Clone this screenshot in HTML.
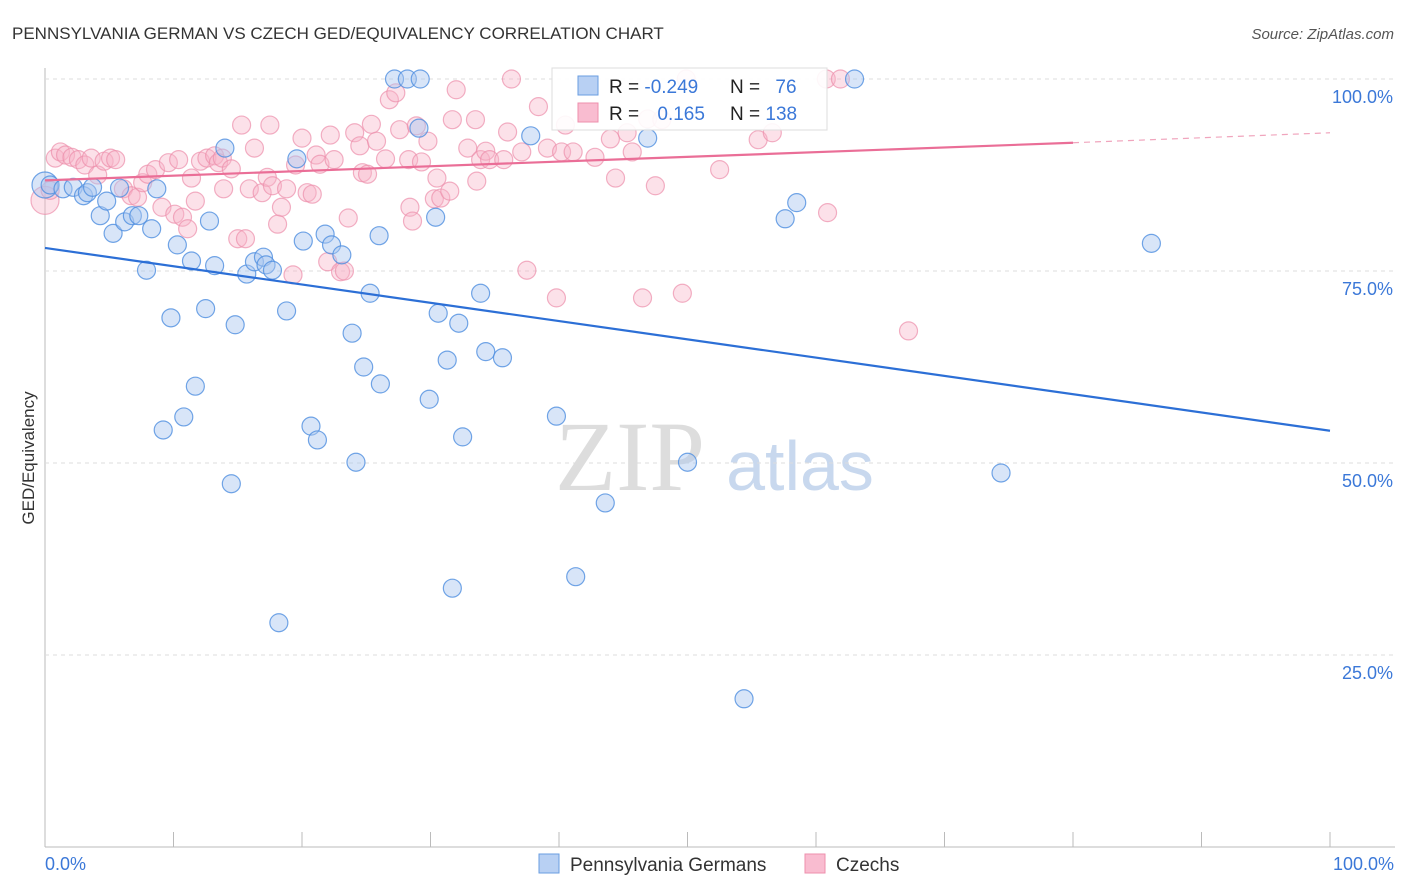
<!DOCTYPE html>
<html><head><meta charset="utf-8"><style>
body{margin:0;background:#fff;font-family:"Liberation Sans",sans-serif;}
#wrap{position:relative;width:1406px;height:892px;overflow:hidden;}
</style></head><body>
<div id="wrap">
<svg id="svg" width="1406" height="892" xmlns="http://www.w3.org/2000/svg">
<text x="12" y="39" font-size="17" fill="#333">PENNSYLVANIA GERMAN VS CZECH GED/EQUIVALENCY CORRELATION CHART</text>
<text x="1394" y="39" font-size="15" fill="#555" text-anchor="end" font-style="italic">Source: ZipAtlas.com</text>
<text x="34" y="458" font-size="17" fill="#333" text-anchor="middle" transform="rotate(-90 34 458)">GED/Equivalency</text>
<text x="630" y="490" font-size="100" fill="#ddd" font-family="Liberation Serif,serif" text-anchor="middle">ZIP</text>
<text x="800" y="490" font-size="70" fill="#c8d8ee" text-anchor="middle">atlas</text>
<g id="grid"></g><g id="pts"></g><g id="lines"></g>
<g>
<rect x="552" y="68" width="275" height="62" fill="#fff" fill-opacity="0.9" stroke="#ddd"/>
<rect x="578" y="76" width="20" height="19" fill="#b8d0f3" stroke="#6a9ee0"/>
<rect x="578" y="103" width="20" height="19" fill="#f9bcd0" stroke="#ee8fad"/>
<text x="609" y="93" font-size="19" fill="#222">R = <tspan fill="#3b78d8">-0.249</tspan></text>
<text x="730" y="93" font-size="19" fill="#222">N = <tspan fill="#3b78d8" dx="10">76</tspan></text>
<text x="609" y="120" font-size="19" fill="#222">R = <tspan fill="#3b78d8" dx="13">0.165</tspan></text>
<text x="730" y="120" font-size="19" fill="#222">N = <tspan fill="#3b78d8">138</tspan></text>
</g>
<g>
<rect x="539" y="854" width="20" height="19" fill="#b8d0f3" stroke="#6a9ee0"/>
<text x="570" y="871" font-size="19" fill="#333">Pennsylvania Germans</text>
<rect x="805" y="854" width="20" height="19" fill="#f9bcd0" stroke="#ee8fad"/>
<text x="836" y="871" font-size="19" fill="#333">Czechs</text>
</g>
<text x="45" y="870" font-size="18" fill="#3b78d8">0.0%</text>
<text x="1394" y="870" font-size="18" fill="#3b78d8" text-anchor="end">100.0%</text>
</svg>
</div>
<script>
const blueX=[0,0.4,1.4,2.2,3.0,3.3,3.7,4.3,4.8,5.3,5.8,6.2,6.8,7.3,7.9,8.3,8.7,9.2,9.8,10.3,10.8,11.4,11.7,12.5,12.8,13.2,14.0,14.5,14.8,15.7,16.3,17.0,17.2,17.7,18.2,18.8,19.6,20.1,20.7,21.2,21.8,22.3,23.1,23.9,24.2,24.8,25.3,26.0,26.1,27.2,28.2,29.2,29.1,29.9,30.4,30.6,31.3,31.7,32.2,32.5,33.9,34.3,35.6,37.8,39.8,41.3,43.6,46.9,50.0,54.4,57.6,58.5,63.0,74.4,86.1];
const blueY=[86.2,86.2,85.7,85.9,84.8,85.2,85.9,82.2,84.1,79.9,85.8,81.4,82.2,82.2,75.1,80.5,85.7,54.3,68.9,78.4,56.0,76.3,60.0,70.1,81.5,75.7,91.0,47.3,68.0,74.6,76.2,76.8,75.8,75.1,29.2,69.8,89.6,78.9,54.8,53.0,79.8,78.4,77.1,66.9,50.1,62.5,72.1,79.6,60.3,100,100,100,93.6,58.3,82.0,69.5,63.4,33.7,68.2,53.4,72.1,64.5,63.7,92.6,56.1,35.2,44.8,92.3,50.1,19.3,81.8,83.9,100,48.7,78.6];
const pinkX=[0,0.4,0.8,1.2,1.6,2.1,2.6,3.1,3.6,4.1,4.6,5.1,5.5,6.1,6.7,7.2,7.6,8.0,8.6,9.1,9.6,10.1,10.4,10.7,11.1,11.4,11.7,12.1,12.6,13.2,13.5,13.8,13.9,14.5,15.0,15.3,15.6,15.9,16.3,16.9,17.3,17.5,17.7,18.1,18.4,18.8,19.3,19.5,20.0,20.4,20.8,21.1,21.4,22.0,22.2,22.5,23.0,23.3,23.6,24.1,24.5,24.7,25.1,25.4,25.8,26.5,26.8,27.3,27.6,28.3,28.4,28.6,28.9,29.3,29.8,30.3,30.5,30.8,31.5,31.7,32.0,32.9,33.5,33.6,33.9,34.3,34.6,35.7,36.0,36.3,37.1,37.5,38.4,39.1,39.8,40.2,40.5,41.1,42.8,44.0,44.4,45.3,45.7,46.5,46.9,47.5,48.0,49.6,49.9,52.5,55.5,56.6,60.8,60.9,61.9,67.2];
const pinkY=[84.2,85.5,89.7,90.5,90.1,89.8,89.5,88.8,89.7,87.5,89.3,89.7,89.5,85.7,84.8,84.6,86.5,87.6,88.2,83.3,89.1,82.4,89.5,82.0,80.5,87.1,84.1,89.3,89.7,90.0,89.1,89.7,85.7,88.3,79.2,94.0,79.2,85.7,91.0,85.2,87.2,94.0,86.1,81.1,83.3,85.7,74.5,88.8,92.3,85.2,85.0,90.1,88.9,76.2,92.7,89.5,74.9,75.0,81.9,93.0,91.3,87.8,87.6,94.1,91.9,89.6,97.3,98.2,93.4,89.5,83.3,81.5,93.9,89.2,91.9,84.4,87.1,84.5,85.4,94.7,98.6,91.0,94.7,86.7,89.5,90.6,89.5,89.5,93.1,100,90.5,75.1,96.4,91.0,71.5,90.5,94.0,90.5,89.8,92.2,87.1,93.0,90.5,71.5,94.8,86.1,94.7,72.1,100,88.2,92.1,93.0,100,82.6,100,67.2];
const blueTrend=[78.0,54.2];
const pinkTrend=[86.8,91.7,93.0];
const yTicks=[100,75,50,25];
const yTickLabels=["100.0%","75.0%","50.0%","25.0%"];
const xTicks=[0,10,20,30,40,50,60,70,80,90,100];

const NS="http://www.w3.org/2000/svg";
const X=v=>45+v*12.85, Y=v=>847-v*7.68;
function mk(tag,attrs,parent){const e=document.createElementNS(NS,tag);for(const k in attrs)e.setAttribute(k,attrs[k]);document.getElementById(parent).appendChild(e);return e;}
const axL=mk('line',{x1:45,y1:68,x2:45,y2:847,stroke:'#bbb'},'grid');


const axB=mk('line',{x1:45,y1:847,x2:1395,y2:847,stroke:'#bbb'},'grid');


yTicks.forEach((t,i)=>{
 const g=mk('line',{x1:45,y1:Y(t),x2:1395,y2:Y(t),stroke:'#ddd','stroke-dasharray':'4,4'},'grid');
 
 
 const tx=mk('text',{x:1393,y:Y(t)+24,'font-size':18,fill:'#3b78d8','text-anchor':'end'},'grid');
 tx.textContent=yTickLabels[i];
 
 
});
xTicks.forEach(t=>{
 const l=mk('line',{x1:X(t),y1:832,x2:X(t),y2:847,stroke:'#bbb'},'grid');
 
 
});
pinkX.forEach((v,i)=>{
 const c=mk('circle',{cx:X(v),cy:Y(pinkY[i]),r:i==0?14:9,fill:'#f7b4c8','fill-opacity':0.4,stroke:'#ec8fab','stroke-opacity':0.7,'stroke-width':1.2},'pts');
 
 
});
blueX.forEach((v,i)=>{
 const c=mk('circle',{cx:X(v),cy:Y(blueY[i]),r:i==0?13:9,fill:'#a8c6f0','fill-opacity':0.45,stroke:'#4f8ee0','stroke-opacity':0.8,'stroke-width':1.2},'pts');
 
 
});
const bl=mk('line',{x1:X(0),y1:Y(blueTrend[0]),x2:X(100),y2:Y(blueTrend[1]),stroke:'#2c6fd6','stroke-width':2.2},'lines');


const pl=mk('line',{x1:X(0),y1:Y(pinkTrend[0]),x2:X(80),y2:Y(pinkTrend[1]),stroke:'#ea6e97','stroke-width':2.2},'lines');


const pd=mk('line',{x1:X(80),y1:Y(pinkTrend[1]),x2:X(100),y2:Y(pinkTrend[2]),stroke:'#f0a5bd','stroke-width':1.2,'stroke-dasharray':'6,5'},'lines');


</script>
</body></html>
